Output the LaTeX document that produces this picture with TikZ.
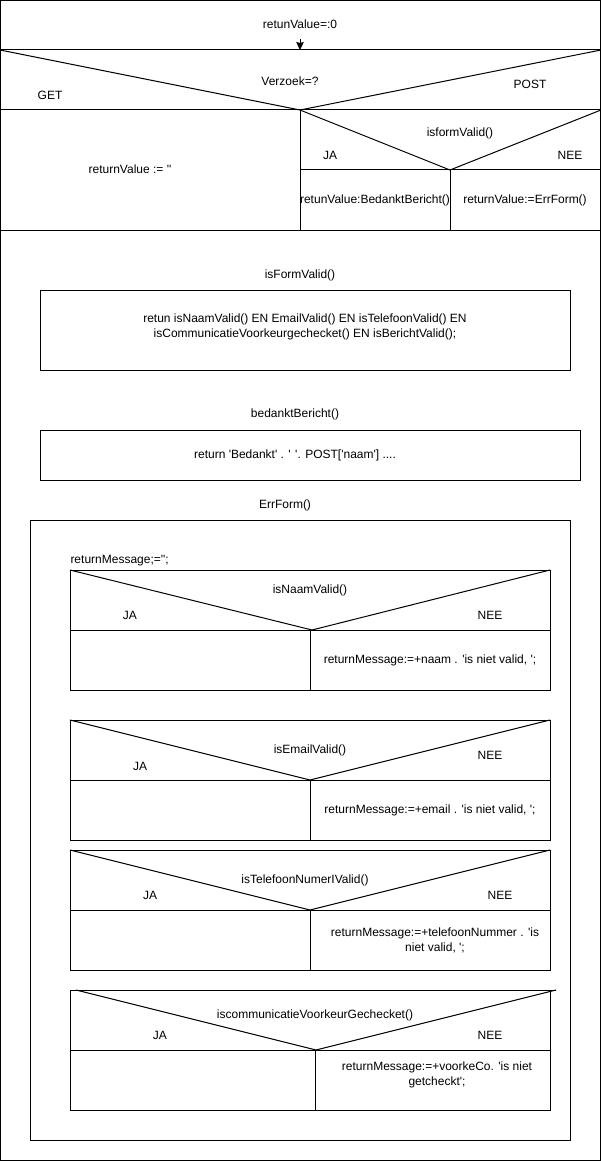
\documentclass[tikz,border=0pt]{standalone}
\usepackage{fontspec}
\setmainfont{Liberation Sans}[Ligatures=TeXOff]
\usetikzlibrary{arrows.meta}
\begin{document}
\begin{tikzpicture}[x=1pt,y=-1pt,line width=1pt,
  lbl/.style={inner sep=0pt,font=\fontsize{12}{15}\selectfont,align=center},
  ln/.style={draw=black,line width=1pt}]
\useasboundingbox (0,0) rectangle (601,1161);
\draw[ln] (0.5,0.5) rectangle (600.5,1160.5);
% ---- top structogram ----
\node[lbl] (t0) at (300,24) {retunValue=:0};
\coordinate (a0) at (300,39);
\coordinate (a1) at (300,50);
\draw[ln,-{Stealth[length=8pt,width=7.5pt,inset=1pt]}] (a0) -- (a1);
\draw[ln] (0,50) -- (601,50);
\draw[ln] (0,50) -- (300,110) -- (601,50);
\node[lbl] (q1) at (290,81) {Verzoek=?};
\node[lbl] (get) at (50,95) {GET};
\node[lbl] (post) at (530,84) {POST};
\draw[ln] (0,110) -- (601,110);
\draw[ln] (300,110) -- (300,230);
\node[lbl] (c1) at (130,169) {returnValue := ''};
\draw[ln] (300,110) -- (450,170) -- (601,110);
\node[lbl] (q2) at (460,133) {isformValid()};
\node[lbl] (ja0) at (330,155) {JA};
\node[lbl] (nee0) at (570,155) {NEE};
\draw[ln] (300,170) -- (601,170);
\draw[ln] (450,170) -- (450,230);
\node[lbl] (c2) at (375,200) {retunValue:BedanktBericht()};
\node[lbl] (c3) at (525,200) {returnValue:=ErrForm()};
\draw[ln] (0,230) -- (601,230);
% ---- isFormValid ----
\node[lbl] (h1) at (300,275) {isFormValid()};
\draw[ln] (40,290) rectangle (570,370);
\node[lbl] (b1) at (305,327) {retun isNaamValid() EN EmailValid() EN isTelefoonValid() EN\\ isCommunicatieVoorkeurgechecket() EN isBerichtValid();};
% ---- bedanktBericht ----
\node[lbl] (h2) at (295,414) {bedanktBericht()};
\draw[ln] (40,430) rectangle (580,480);
\node[lbl] (b2) at (295,455) {return 'Bedankt' . ' '. POST['naam'] ....};
% ---- ErrForm ----
\node[lbl] (h3) at (285,505) {ErrForm()};
\draw[ln] (30,520) rectangle (570,1140);
\node[lbl,anchor=west] (rm) at (70,561) {returnMessage;='';};
% box 1
\draw[ln] (70,570) rectangle (550,690);
\draw[ln] (70,570) -- (312,630) -- (550,570);
\draw[ln] (70,630) -- (550,630);
\draw[ln] (310,630) -- (310,690);
\node[lbl] (d1) at (310,590) {isNaamValid()};
\node[lbl] (ja1) at (130,615) {JA};
\node[lbl] (nee1) at (490,615) {NEE};
\node[lbl] (m1) at (430,660) {returnMessage:=+naam . 'is niet valid, ';};
% box 2
\draw[ln] (70,720) rectangle (550,840);
\draw[ln] (70,720) -- (310,780) -- (550,720);
\draw[ln] (70,780) -- (550,780);
\draw[ln] (310,780) -- (310,840);
\node[lbl] (d2) at (310,750) {isEmailValid()};
\node[lbl] (ja2) at (140,766) {JA};
\node[lbl] (nee2) at (490,755) {NEE};
\node[lbl] (m2) at (430,810) {returnMessage:=+email . 'is niet valid, ';};
% box 3
\draw[ln] (70,850) rectangle (550,970);
\draw[ln] (70,850) -- (310,910) -- (550,850);
\draw[ln] (70,910) -- (550,910);
\draw[ln] (310,910) -- (310,970);
\node[lbl] (d3) at (305,880) {isTelefoonNumerIValid()};
\node[lbl] (ja3) at (150,895) {JA};
\node[lbl] (nee3) at (500,895) {NEE};
\node[lbl] (m3) at (435,940) {returnMessage:=+telefoonNummer . 'is\\niet valid, ';};
% box 4
\draw[ln] (70,990) -- (556,990);
\draw[ln] (70,990) -- (70,1110) -- (550,1110) -- (550,990);
\draw[ln] (76,990) -- (316,1050) -- (556,990);
\draw[ln] (70,1050) -- (550,1050);
\draw[ln] (315,1050) -- (315,1110);
\node[lbl] (d4) at (315,1015) {iscommunicatieVoorkeurGechecket()};
\node[lbl] (ja4) at (160,1035) {JA};
\node[lbl] (nee4) at (490,1035) {NEE};
\node[lbl] (m4) at (437,1075) {returnMessage:=+voorkeCo. 'is niet\\getcheckt';};
\end{tikzpicture}
\end{document}
